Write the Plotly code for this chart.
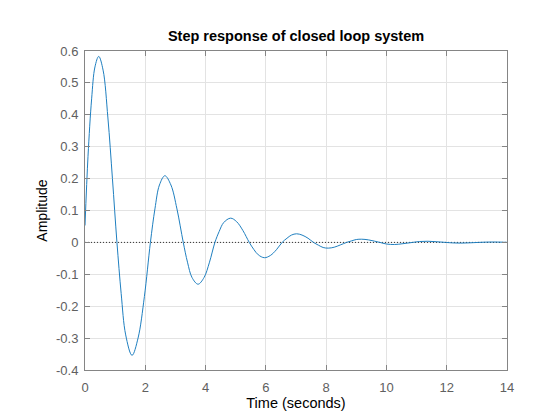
import plotly.graph_objects as go

# Step response samples
time_s = [0, 0.1, 0.22, 0.33, 0.455, 0.6, 0.76, 0.91, 1.06, 1.2, 1.35, 1.56, 1.76, 1.97, 2.17,
          2.32, 2.47, 2.65, 2.85, 3.05, 3.26, 3.4, 3.55, 3.75, 3.95, 4.13, 4.31,
          4.45, 4.6, 4.83, 5.03, 5.24, 5.45, 5.6, 5.75, 5.95, 6.15, 6.35, 6.54,
          6.7, 6.85, 7.02, 7.2, 7.4, 7.58, 7.75, 7.9, 8.07, 8.27, 8.47, 8.68,
          8.85, 9.0, 9.18, 9.4, 9.6, 9.78, 10.0, 10.27, 10.55, 10.87,
          11.1, 11.37, 11.65, 11.96, 12.2, 12.46, 12.75, 13.05, 13.3, 13.55, 13.8, 14.0]
amplitude = [0.053, 0.27, 0.45, 0.55, 0.583, 0.54, 0.39, 0.2, 0.0, -0.16, -0.29, -0.354, -0.30, -0.17, 0.0,
             0.105, 0.18, 0.209, 0.18, 0.105, 0.0, -0.062, -0.11, -0.131, -0.11, -0.062, 0.0,
             0.034, 0.062, 0.076, 0.065, 0.037, 0.0, -0.022, -0.039, -0.048, -0.041, -0.023, 0.0,
             0.013, 0.023, 0.027, 0.023, 0.013, 0.0, -0.009, -0.016, -0.018, -0.015, -0.008, 0.0,
             0.005, 0.009, 0.010, 0.008, 0.004, 0.0, -0.005, -0.0066, -0.004, 0.0,
             0.0028, 0.0036, 0.0022, 0.0, -0.0016, -0.0023, -0.0014, 0.0, 0.0009, 0.0013, 0.0008, 0.0002]

x_ticks = [0, 2, 4, 6, 8, 10, 12, 14]
x_tick_text = ["0", "2", "4", "6", "8", "10", "12", "14"]
y_ticks = [-0.4, -0.3, -0.2, -0.1, 0, 0.1, 0.2, 0.3, 0.4, 0.5, 0.6]
y_tick_text = ["-0.4", "-0.3", "-0.2", "-0.1", "0", "0.1", "0.2", "0.3", "0.4", "0.5", "0.6"]
ref_x = [0, 14]
ref_y = [0, 0]

FONT = "Liberation Sans, Arial, sans-serif"

fig = go.Figure()
fig.add_trace(go.Scatter(x=ref_x, y=ref_y, mode="lines",
                         line=dict(color="#333333", width=1, dash="1px,2px"),
                         hoverinfo="skip", showlegend=False))
fig.add_trace(go.Scatter(x=time_s, y=amplitude, mode="lines",
                         line=dict(color="#1f7fc0", width=1, shape="spline", smoothing=1.0),
                         showlegend=False))

axis_common = dict(showline=True, linecolor="#858585", linewidth=1, mirror="ticks",
                   ticks="inside", ticklen=5, tickcolor="#858585",
                   showgrid=True, gridcolor="#e3e3e3", gridwidth=1, zeroline=False,
                   tickfont=dict(family=FONT, size=13, color="#606060"))

fig.update_layout(
    width=560, height=420,
    paper_bgcolor="white", plot_bgcolor="white",
    margin=dict(l=85, r=53, t=51, b=48),
    title=dict(text="<b>Step response of closed loop system</b>", x=0.5, xanchor="center",
               xref="paper", y=1 - 36 / 420, yanchor="middle",
               font=dict(family=FONT, size=14.5, color="black")),
    xaxis=dict(range=[0, 14], tickvals=x_ticks, ticktext=x_tick_text,
               ticklabelstandoff=5,
               title=dict(text="Time (seconds)", standoff=3,
                          font=dict(family=FONT, size=14.5, color="black")),
               **axis_common),
    yaxis=dict(range=[-0.4, 0.6], tickvals=y_ticks, ticktext=y_tick_text,
               ticklabelstandoff=3,
               title=dict(text="Amplitude", standoff=5,
                          font=dict(family=FONT, size=14, color="black")),
               **axis_common),
)

fig.write_html("out.html")
